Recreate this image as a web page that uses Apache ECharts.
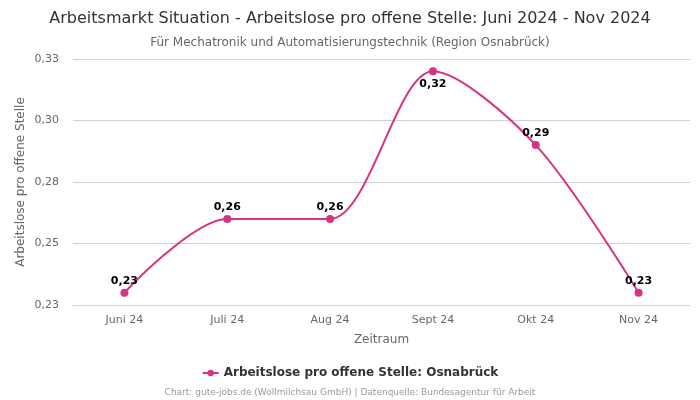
<!DOCTYPE html>
<html><head><meta charset="utf-8">
<script src="https://cdn.jsdelivr.net/npm/echarts@6/dist/echarts.min.js"></script>
<style>html,body{margin:0;padding:0;background:#fff}#c{width:700px;height:400px}</style>
</head><body><div id="c"></div>
<script>
const categories = ['Juni 24', 'Juli 24', 'Aug 24', 'Sept 24', 'Okt 24', 'Nov 24'];
const values = [0.23, 0.26, 0.26, 0.32, 0.29, 0.23];
const labelBelow = [false, false, false, true, false, false];
const yMin = 0.225, yMax = 0.325, yStep = 0.025;
const seriesName = 'Arbeitslose pro offene Stelle: Osnabrück';
const color = '#d63384';
const font = 'DejaVu Sans';
const fmt = v => v.toFixed(2).replace('.', ',');

const chart = echarts.init(document.getElementById('c'), null, {renderer: 'canvas'});
chart.setOption({
  animation: false,
  backgroundColor: '#fff',
  textStyle: {fontFamily: font},
  title: [
    {text: 'Arbeitsmarkt Situation - Arbeitslose pro offene Stelle: Juni 2024 - Nov 2024', left: 'center', top: 6,
     textStyle: {fontFamily: font, fontSize: 16, fontWeight: 'normal', color: '#333'}},
    {text: 'Für Mechatronik und Automatisierungstechnik (Region Osnabrück)', left: 'center', top: 32,
     textStyle: {fontFamily: font, fontSize: 12, fontWeight: 'normal', color: '#666'}},
    {text: 'Chart: gute-jobs.de (Wollmilchsau GmbH) | Datenquelle: Bundesagentur für Arbeit', left: 'center', top: 383,
     textStyle: {fontFamily: font, fontSize: 9, fontWeight: 'normal', color: '#999'}}
  ],
  legend: {
    data: [seriesName], left: 'center', top: 362,
    itemWidth: 16, itemHeight: 8,
    textStyle: {fontFamily: font, fontSize: 12, fontWeight: 'bold', color: '#333'}
  },
  grid: {left: 73, right: 10, top: 59, bottom: 95},
  xAxis: {
    type: 'category', data: categories, boundaryGap: true,
    name: 'Zeitraum', nameLocation: 'middle', nameGap: 29,
    nameTextStyle: {fontFamily: font, fontSize: 12, color: '#666'},
    axisLine: {lineStyle: {color: '#ccd6eb'}},
    axisTick: {show: false},
    axisLabel: {fontFamily: font, fontSize: 11, color: '#666', margin: 10}
  },
  yAxis: {
    type: 'value', min: yMin, max: yMax, interval: yStep,
    name: 'Arbeitslose pro offene Stelle', nameLocation: 'middle', nameGap: 46,
    nameMoveOverlap: false,
    nameTextStyle: {fontFamily: font, fontSize: 12, color: '#666'},
    axisLine: {show: false}, axisTick: {show: false},
    splitLine: {lineStyle: {color: '#d0d0d0'}},
    axisLabel: {fontFamily: font, fontSize: 11, color: '#666', margin: 14, formatter: v => fmt(v)}
  },
  series: [{
    name: seriesName, type: 'line', smooth: 0.3,
    data: values.map((v, i) => ({
      value: v,
      label: labelBelow[i] ? {position: 'bottom', distance: 3} : {position: 'top', distance: 2}
    })),
    symbol: 'circle', symbolSize: 8,
    lineStyle: {color: color, width: 2},
    itemStyle: {color: color},
    label: {show: true, fontFamily: font, fontSize: 11, fontWeight: 'bold', color: '#000',
      formatter: p => fmt(p.value)}
  }]
});
</script></body></html>
